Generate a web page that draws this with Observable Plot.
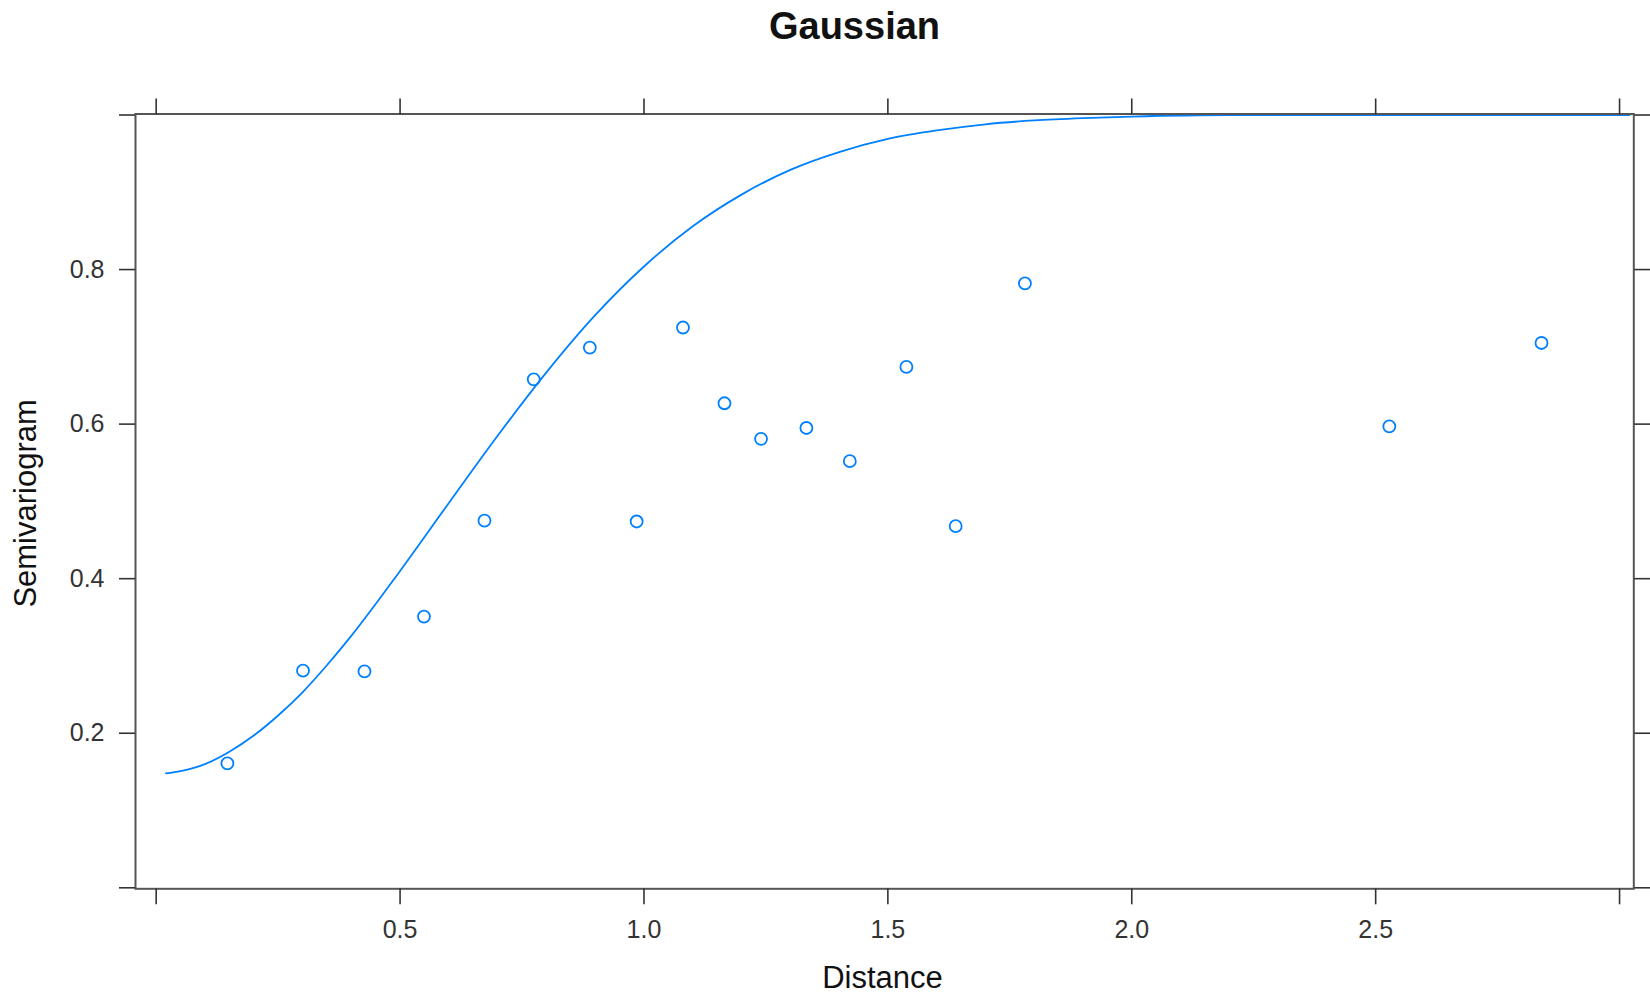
<!DOCTYPE html>
<html>
<head>
<meta charset="utf-8">
<script src="https://cdn.jsdelivr.net/npm/d3@7"></script>
<script src="https://cdn.jsdelivr.net/npm/@observablehq/plot@0.6"></script>
<style>
  html, body { margin: 0; padding: 0; background: #fff; }
  #chart svg { display: block; }
</style>
</head>
<body>
<div id="chart"></div>
<script>
// Empirical semivariogram: lag distance and semivariance of each bin
const lagDistance = [0.146, 0.301, 0.427, 0.549, 0.673, 0.774, 0.889, 0.985, 1.080,
                     1.165, 1.240, 1.333, 1.422, 1.538, 1.639, 1.781, 2.528, 2.840];
const semivariance = [0.161, 0.281, 0.280, 0.351, 0.475, 0.658, 0.699, 0.474, 0.725,
                      0.627, 0.581, 0.595, 0.552, 0.674, 0.468, 0.782, 0.597, 0.705];

// Fitted Gaussian model, sampled along the distance axis
const modelDistance = [0.02, 0.05, 0.1, 0.15, 0.2, 0.25, 0.3, 0.35, 0.4, 0.5, 0.6, 0.7, 0.8,
                       0.9, 1.0, 1.1, 1.2, 1.3, 1.4, 1.5, 1.6, 1.7, 1.8, 1.9, 2.0, 2.2,
                       2.5, 2.8, 3.02];
const modelGamma = [0.148, 0.151, 0.160, 0.176, 0.197, 0.223, 0.253, 0.288, 0.326, 0.410,
                    0.498, 0.585, 0.667, 0.741, 0.804, 0.856, 0.897, 0.929, 0.952, 0.969,
                    0.980, 0.988, 0.993, 0.996, 0.998, 1.000, 1.000, 1.000, 1.000];

// Axis ticks and which of them carry a label
const xTicks = [0, 0.5, 1.0, 1.5, 2.0, 2.5, 3.0];
const xLabelled = [0.5, 1.0, 1.5, 2.0, 2.5];
const yTicks = [0, 0.2, 0.4, 0.6, 0.8, 1.0];
const yLabelled = [0.2, 0.4, 0.6, 0.8];

const titleText = "Gaussian";
const xLabel = "Distance";
const yLabel = "Semivariogram";

const points = lagDistance.map((d, i) => ({dist: d, gamma: semivariance[i]}));
const model = modelDistance.map((d, i) => ({dist: d, gamma: modelGamma[i]}));

const blue = "#0080ff";
const axisColor = "#333";
const fmt = d3.format(".1f");

const W = 1650, H = 995;
const mLeft = 135, mRight = 16.7, mTop = 113.5, mBottom = 106.7;

const chart = Plot.plot({
  width: W,
  height: H,
  marginLeft: mLeft,
  marginRight: mRight,
  marginTop: mTop,
  marginBottom: mBottom,
  style: {fontFamily: "'Liberation Sans', Arial, Helvetica, sans-serif", background: "#fff", color: "#222"},
  x: {domain: [-0.0424, 3.0292]},
  y: {domain: [-0.0013, 1.0013]},
  marks: [
    // fitted model curve
    Plot.line(model, {x: "dist", y: "gamma", stroke: blue, strokeWidth: 1.8, curve: "monotone-x", clip: true}),
    // empirical points
    Plot.dot(points, {x: "dist", y: "gamma", r: 6, stroke: blue, strokeWidth: 1.8, fill: "none"}),
    // panel box
    Plot.frame({stroke: "#555", strokeWidth: 2}),
    // axes: ticks on all four sides, labels on bottom and left
    Plot.axisX({anchor: "bottom", ticks: xTicks, tickSize: 16, tickPadding: 15, fontSize: 25,
      tickFormat: d => xLabelled.includes(d) ? fmt(d) : "", label: null, color: axisColor, strokeWidth: 1.6}),
    Plot.axisX({anchor: "top", ticks: xTicks, tickSize: 16, tickFormat: () => "", label: null, color: axisColor, strokeWidth: 1.6}),
    Plot.axisY({anchor: "left", ticks: yTicks, tickSize: 16, tickPadding: 15, fontSize: 25,
      tickFormat: d => yLabelled.includes(d) ? fmt(d) : "", label: null, color: axisColor, strokeWidth: 1.6}),
    Plot.axisY({anchor: "right", ticks: yTicks, tickSize: 16, tickFormat: () => "", label: null, color: axisColor, strokeWidth: 1.6}),
    // title and axis titles
    Plot.text([titleText], {frameAnchor: "top-left", dx: 719, dy: 38 - mTop, text: d => d,
      lineAnchor: "bottom", textAnchor: "middle", fontSize: 38, fontWeight: "bold", fill: "#111"}),
    Plot.text([xLabel], {frameAnchor: "bottom-left", dx: 747, dy: 987 - (H - mBottom), text: d => d,
      lineAnchor: "bottom", textAnchor: "middle", fontSize: 31, fill: "#111"}),
    Plot.text([yLabel], {frameAnchor: "left", dx: 35 - mLeft, dy: 2, text: d => d, rotate: -90,
      lineAnchor: "bottom", textAnchor: "middle", fontSize: 31, fill: "#111"})
  ]
});

document.getElementById("chart").append(chart);
</script>
</body>
</html>
